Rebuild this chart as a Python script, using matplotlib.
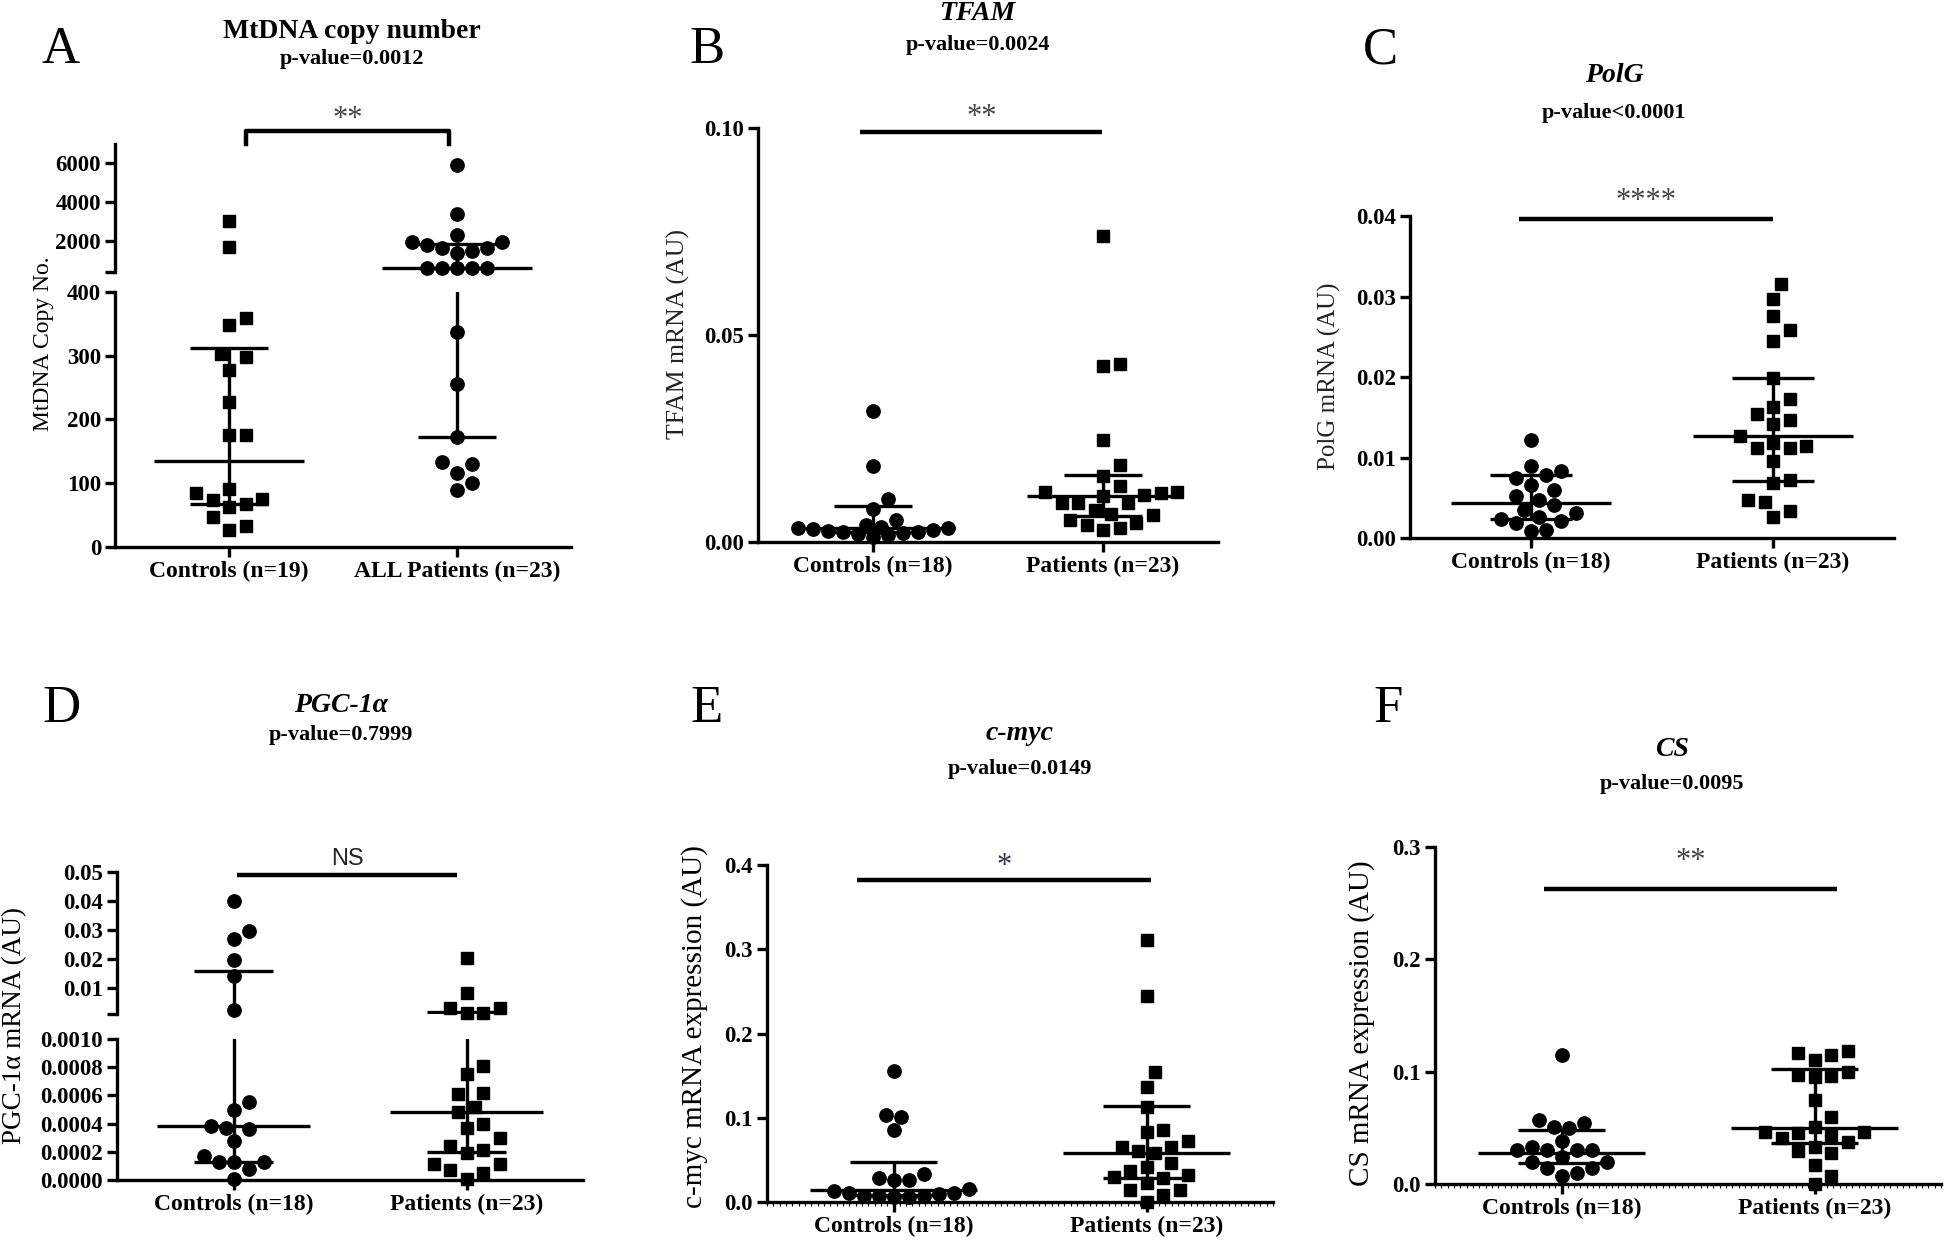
import matplotlib
matplotlib.use('Agg')
import matplotlib.pyplot as plt
import numpy as np
from matplotlib.ticker import MultipleLocator

W, H = 1944, 1247
plt.rcParams['font.family'] = ['Liberation Serif', 'DejaVu Serif']

# A - MtDNA copy number
mt_controls = [3019, 1712, 359, 349, 302, 298, 278, 227, 176, 176, 91, 84, 76, 74, 67, 62, 47, 33, 27]
mt_patients = [5904, 3404, 2308, 1923, 1923, 1808, 1615, 1615, 1480, 1385, 615, 615, 615, 615, 615,
               337, 255, 173, 134, 130, 116, 100, 89]
mt_median = [135, 615]
mt_q1 = [67, 173]
mt_q3 = [312, 1865]

# B - TFAM
tfam_controls = [0.0317, 0.0184, 0.0104, 0.0079, 0.0052, 0.0041, 0.0037, 0.0035, 0.0033, 0.0031,
                 0.0029, 0.0027, 0.0025, 0.0023, 0.0021, 0.0019, 0.0016, 0.0013]
tfam_patients = [0.0738, 0.0429, 0.0426, 0.0246, 0.0187, 0.0160, 0.0136, 0.0120, 0.0120, 0.0118,
                 0.0114, 0.0112, 0.0093, 0.0093, 0.0093, 0.0077, 0.0067, 0.0065, 0.0053, 0.0047,
                 0.0041, 0.0033, 0.0029]
tfam_median = [0.0033, 0.0112]
tfam_q1 = [0.0025, 0.0063]
tfam_q3 = [0.0087, 0.0163]

# C - PolG
polg_controls = [0.0122, 0.0089, 0.0083, 0.0078, 0.0075, 0.0066, 0.0060, 0.0052, 0.0047, 0.0041,
                 0.0035, 0.0031, 0.0026, 0.0024, 0.0021, 0.0019, 0.0010, 0.0009]
polg_patients = [0.0316, 0.0297, 0.0276, 0.0259, 0.0245, 0.0199, 0.0173, 0.0163, 0.0154, 0.0146,
                 0.0142, 0.0127, 0.0118, 0.0114, 0.0112, 0.0112, 0.0096, 0.0072, 0.0068, 0.0047,
                 0.0045, 0.0033, 0.0026]
polg_median = [0.0044, 0.0127]
polg_q1 = [0.0024, 0.0071]
polg_q3 = [0.0078, 0.0199]

# D - PGC-1a
pgc_controls = [0.0401, 0.0297, 0.0269, 0.0196, 0.0141, 0.0023, 0.00055, 0.00050, 0.00038, 0.00037,
                0.00036, 0.00028, 0.00017, 0.00013, 0.00013, 0.00013, 0.00008, 0.00001]
pgc_patients = [0.0203, 0.0083, 0.0032, 0.0030, 0.0014, 0.0013, 0.00081, 0.00075, 0.00062, 0.00061,
                0.00052, 0.00048, 0.00040, 0.00037, 0.00030, 0.00024, 0.00021, 0.00019, 0.00011,
                0.00011, 0.00007, 0.00005, 0.00001]
pgc_median = [0.00038, 0.00048]
pgc_q1 = [0.00013, 0.00020]
pgc_q3 = [0.016, 0.0017]

# E - c-myc
myc_controls = [0.1556, 0.103, 0.101, 0.0855, 0.0333, 0.028, 0.026, 0.026, 0.016, 0.0135,
                0.011, 0.011, 0.0091, 0.0075, 0.0071, 0.0071, 0.0063, 0.0063]
myc_patients = [0.311, 0.245, 0.1547, 0.137, 0.1124, 0.0858, 0.0827, 0.072, 0.0658, 0.0658, 0.060,
                0.0578, 0.046, 0.041, 0.037, 0.032, 0.030, 0.028, 0.022, 0.0147, 0.0147, 0.008, 0.0]
myc_median = [0.0147, 0.058]
myc_q1 = [0.0085, 0.028]
myc_q3 = [0.047, 0.114]

# F - CS
cs_controls = [0.115, 0.0567, 0.0543, 0.0507, 0.050, 0.0383, 0.0333, 0.030, 0.030, 0.030, 0.030,
               0.024, 0.020, 0.020, 0.014, 0.014, 0.010, 0.0073]
cs_patients = [0.1183, 0.1167, 0.115, 0.110, 0.100, 0.0967, 0.096, 0.095, 0.075, 0.0593, 0.0507,
               0.046, 0.045, 0.046, 0.0433, 0.0407, 0.037, 0.0333, 0.0293, 0.0273, 0.0173, 0.0073, 0.0]
cs_median = [0.0273, 0.050]
cs_q1 = [0.0183, 0.0367]
cs_q3 = [0.0483, 0.1027]

fig = plt.figure(figsize=(W / 100, H / 100), dpi=100)

LW = 2.4
TICK_FS = 16.5
XLAB_FS = 17


def px_axes(left, top, right, bottom):
    return fig.add_axes([left / W, 1 - bottom / H, (right - left) / W, (bottom - top) / H])


def style(ax, show_x=True):
    ax.patch.set_visible(False)
    for s in ['top', 'right']:
        ax.spines[s].set_visible(False)
    ax.spines['left'].set_linewidth(LW)
    ax.spines['bottom'].set_linewidth(LW)
    ax.tick_params(width=LW, length=7, labelsize=TICK_FS, pad=3)
    for lab in ax.get_yticklabels():
        lab.set_fontweight('bold')
    ax.set_xlim(0.5, 2.5)
    if show_x:
        ax.set_xticks([1, 2])
    else:
        ax.spines['bottom'].set_visible(False)
        ax.set_xticks([])


def swarm(ax, xc, vals, d=15.0, cap=0.34):
    # GraphPad-like column scatter: lowest values in the middle, spreading sideways
    vals = np.asarray(vals, float)
    disp = ax.transData.transform(np.column_stack([np.full(len(vals), xc), vals]))
    ys = disp[:, 1]
    unit = ax.transData.transform((1, 0))[0] - ax.transData.transform((0, 0))[0]
    cands = [0.0]
    k = 1
    while k * d / 2 <= cap * unit:
        cands += [k * d / 2, -k * d / 2]
        k += 1
    placed = []
    offs = np.zeros(len(vals))
    for i in np.argsort(ys, kind='stable'):
        best, best_dist = 0.0, -1.0
        for c in cands:
            md = min([np.hypot(c - px, ys[i] - py) for px, py in placed], default=1e9)
            if md >= 0.97 * d:
                best = c
                break
            if md > best_dist:
                best, best_dist = c, md
        placed.append((best, ys[i]))
        offs[i] = best
    return xc + offs / unit


def scatter(ax, xc, vals, marker):
    if len(vals) == 0:
        return
    xs = swarm(ax, xc, vals, d=15.0 if marker == 'o' else 16.5)
    ms = 9.6 if marker == 'o' else 9.3
    ax.plot(xs, vals, ls='none', marker=marker, ms=ms, color='black', clip_on=False, zorder=3)


def summary(ax, xc, med, q1, q3):
    ax.hlines(med, xc - 0.33, xc + 0.33, color='black', lw=LW, zorder=4)
    ax.hlines([q1, q3], xc - 0.17, xc + 0.17, color='black', lw=LW, zorder=4)
    ax.vlines(xc, q1, q3, color='black', lw=LW, zorder=4)


def xlabels(ax, labels):
    ax.set_xticklabels(labels, fontsize=XLAB_FS, fontweight='bold')


def fig_text(x, y, s, **kw):
    fig.text(x / W, 1 - y / H, s, ha='center', va='center', **kw)


def ylabel(x, y, s, fs=17, **kw):
    fig.text(x / W, 1 - y / H, s, ha='center', va='center', rotation=90, fontsize=fs, **kw)


def titles(x, y1, y2, name, pval, italic=True):
    fig_text(x, y1, name, fontsize=20, fontweight='bold', style='italic' if italic else 'normal')
    fig_text(x, y2, pval, fontsize=16, fontweight='bold')


def sig_line(ax, x1, x2, y, ystar, star, fam=None, fs=22, color='#444444'):
    ax.plot([x1, x2], [y, y], color='black', lw=3.2, clip_on=False, solid_capstyle='butt')
    kw = {'family': fam} if fam else {}
    ax.text((x1 + x2) / 2, ystar, star, ha='center', va='center', fontsize=fs, color=color,
            clip_on=False, **kw)


def simple_panel(box, ctrl, pat, med, q1, q3, ymax, yticks, fmt, labels, markers):
    ax = px_axes(*box)
    ax.set_ylim(0, ymax)
    ax.set_yticks(yticks)
    ax.set_yticklabels([fmt.format(t) for t in yticks])
    style(ax)
    xlabels(ax, labels)
    scatter(ax, 1, ctrl, markers[0])
    scatter(ax, 2, pat, markers[1])
    for i in range(2):
        summary(ax, i + 1, med[i], q1[i], q3[i])
    return ax


def broken_panel(box, split, ctrl, pat, med, q1, q3, low_lim, up_lim, low_ticks, low_fmt,
                 up_ticks, up_labels, labels, markers):
    left, top, right, up_bottom, low_top, bottom = box
    low = px_axes(left, low_top, right, bottom)
    up = px_axes(left, top, right, up_bottom)
    low.set_ylim(*low_lim)
    up.set_ylim(*up_lim)
    low.set_yticks(low_ticks)
    low.set_yticklabels([low_fmt.format(t) for t in low_ticks])
    up.set_yticks(up_ticks)
    up.set_yticklabels(up_labels)
    style(low)
    style(up, show_x=False)
    xlabels(low, labels)
    for xc, vals, m in [(1, ctrl, markers[0]), (2, pat, markers[1])]:
        vals = np.asarray(vals)
        scatter(low, xc, vals[vals <= split], m)
        scatter(up, xc, vals[vals > split], m)
    for ax in (low, up):
        for i in range(2):
            summary(ax, i + 1, med[i], q1[i], q3[i])
    return low, up


# ---- A ----
lowA, upA = broken_panel((115, 144, 571, 272, 292, 547), 400, mt_controls, mt_patients,
                         mt_median, mt_q1, mt_q3, (0, 400), (400, 7000),
                         [0, 100, 200, 300, 400], '{:.0f}', [400, 2000, 4000, 6000],
                         ['', '2000', '4000', '6000'],
                         ['Controls (n=19)', 'ALL Patients (n=23)'], ['s', 'o'])
upA.plot([1.074, 1.074, 1.965, 1.965], [7000, 7670, 7670, 7000], color='black', lw=3.2,
         clip_on=False)
upA.text(1.52, 8250, '**', ha='center', va='center', fontsize=22, color='#444444', clip_on=False)
titles(352, 31, 59, 'MtDNA copy number', 'p-value=0.0012', italic=False)
ylabel(44, 344, 'MtDNA Copy No.')

# ---- B ----
axB = simple_panel((758, 128, 1218, 542), tfam_controls, tfam_patients, tfam_median, tfam_q1,
                   tfam_q3, 0.10, [0.0, 0.05, 0.10], '{:.2f}',
                   ['Controls (n=18)', 'Patients (n=23)'], ['o', 's'])
sig_line(axB, 0.945, 1.997, 0.099, 0.1025, '**')
titles(978, 14, 45, 'TFAM', 'p-value=0.0024')
ylabel(678, 334, 'TFAM mRNA (AU)', fs=18.5, color='#222222')

# ---- C ----
axC = simple_panel((1410, 216, 1894, 538), polg_controls, polg_patients, polg_median, polg_q1,
                   polg_q3, 0.04, [0.0, 0.01, 0.02, 0.03, 0.04], '{:.2f}',
                   ['Controls (n=18)', 'Patients (n=23)'], ['o', 's'])
sig_line(axC, 0.95, 2.0, 0.0396, 0.0418, '****')
titles(1614, 75, 113, 'PolG', 'p-value<0.0001')
ylabel(1329, 376, 'PolG mRNA (AU)', fs=18, color='#222222')

# ---- D ----
lowD, upD = broken_panel((117, 872, 583, 1014, 1039, 1180), 0.001, pgc_controls, pgc_patients,
                         pgc_median, pgc_q1, pgc_q3, (0, 0.001), (0.001, 0.05),
                         [0, 0.0002, 0.0004, 0.0006, 0.0008, 0.0010], '{:.4f}',
                         [0.001, 0.01, 0.02, 0.03, 0.04, 0.05],
                         ['', '0.01', '0.02', '0.03', '0.04', '0.05'],
                         ['Controls (n=18)', 'Patients (n=23)'], ['o', 's'])
sig_line(upD, 1.016, 1.96, 0.049, 0.0545, 'NS', fam='Liberation Sans', fs=17, color='#222222')
titles(341, 705, 735, 'PGC-1α', 'p-value=0.7999')
ylabel(15, 1025, 'PGC-1α mRNA (AU)', fs=19.5)

# ---- E ----
axE = simple_panel((767, 865, 1273, 1202), myc_controls, myc_patients, myc_median, myc_q1,
                   myc_q3, 0.4, [0.0, 0.1, 0.2, 0.3, 0.4], '{:.1f}',
                   ['Controls (n=18)', 'Patients (n=23)'], ['o', 's'])
sig_line(axE, 0.856, 2.016, 0.382, 0.398, '*', color='#333355')
titles(1020, 733, 769, 'c-myc', 'p-value=0.0149')
ylabel(695, 1027, 'c-myc mRNA expression (AU)', fs=21)

# ---- F ----
axF = simple_panel((1435, 847, 1941, 1184), cs_controls, cs_patients, cs_median, cs_q1,
                   cs_q3, 0.3, [0.0, 0.1, 0.2, 0.3], '{:.1f}',
                   ['Controls (n=18)', 'Patients (n=23)'], ['o', 's'])
sig_line(axF, 0.932, 2.09, 0.2626, 0.287, '**')
titles(1672, 750, 784, 'CS', 'p-value=0.0095')
ylabel(1362, 1023, 'CS mRNA expression (AU)', fs=21)

for ax in (axE, axF):
    ax.xaxis.set_minor_locator(MultipleLocator(0.025))
    ax.tick_params(axis='x', which='minor', length=3, width=0.8)

for letter, x, y in [('A', 61, 50), ('B', 707, 50), ('C', 1380, 50),
                     ('D', 61, 709), ('E', 707, 709), ('F', 1388, 709)]:
    fig_text(x, y, letter, fontsize=38)

fig.savefig('out.png', dpi=100)
